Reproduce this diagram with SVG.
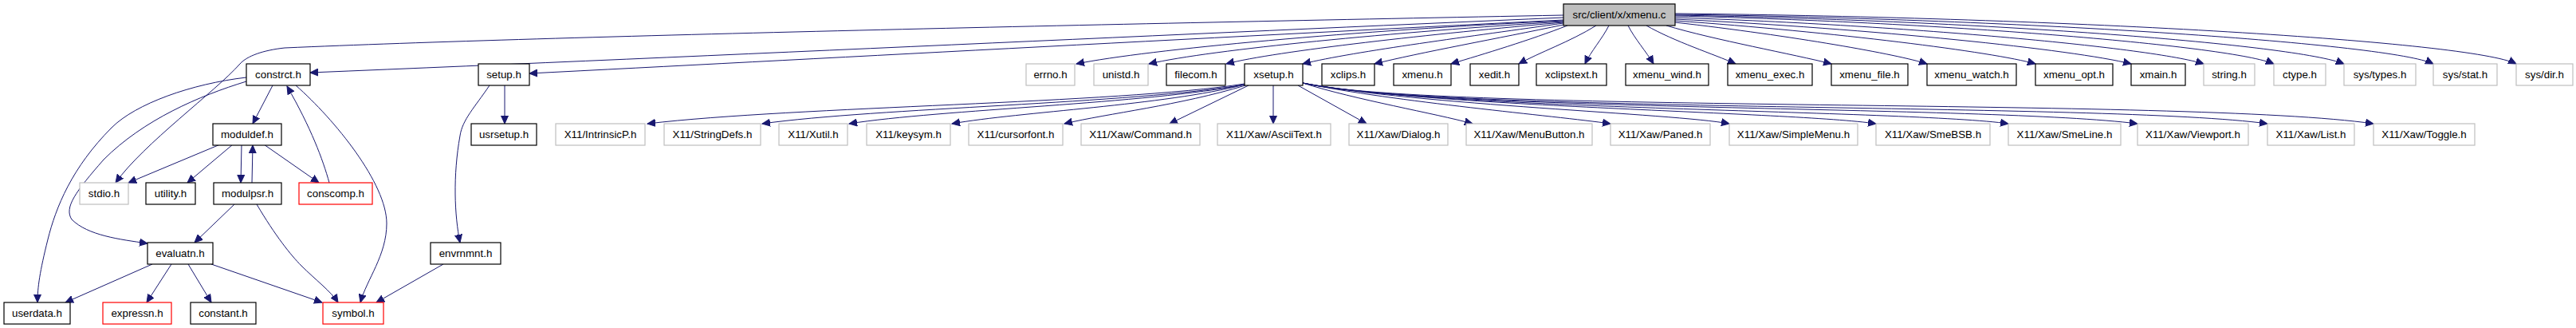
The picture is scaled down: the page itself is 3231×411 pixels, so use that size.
<svg xmlns="http://www.w3.org/2000/svg" width="3231" height="411" viewBox="0 0 3231 411">
<defs>
<marker id="arr" markerUnits="userSpaceOnUse" markerWidth="11" markerHeight="10" viewBox="0 -5 11 10" refX="10" refY="0" orient="auto">
<path d="M0,-4.5 L10,0 L0,4.5 z" fill="#191970" stroke="#191970" stroke-width="1"/>
</marker>
<style>
.n rect{fill:#ffffff;stroke:#000000;stroke-width:1.2}
.g rect{fill:#ffffff;stroke:#bfbfbf;stroke-width:1.2}
.r rect{fill:#ffffff;stroke:#ff0000;stroke-width:1.2}
.root rect{fill:#bfbfbf;stroke:#000000;stroke-width:1.2}
text{font-family:"Liberation Sans",Arial,sans-serif;font-size:13.33px;fill:#000000;text-anchor:middle}
#edges path{fill:none;stroke:#191970;stroke-width:1;marker-end:url(#arr)}
</style>
</defs>
<rect width="3231" height="411" fill="#ffffff"/>
<g id="edges">
<path d="M1961,19 C1400,30 700,45 357,60 C330,63 310,70 301,80 C270,115 180,180 145,229"/>
<path d="M1961,22 C1500,42 900,70 389,91"/>
<path d="M1961,25 C1500,48 1000,75 664,92"/>
<path d="M1961,26 C1700,38 1440,62 1350,80"/>
<path d="M1961,27 C1750,40 1520,62 1441,80"/>
<path d="M1961,28 C1800,42 1600,64 1538,80"/>
<path d="M1961,29 C1850,45 1700,64 1634,80"/>
<path d="M1961,31 C1880,48 1780,66 1724,80"/>
<path d="M1966,32 C1920,50 1860,68 1820,80"/>
<path d="M2002,32 C1970,52 1930,66 1905,80"/>
<path d="M2018,32 C2010,48 1995,65 1988,80"/>
<path d="M2042,32 C2050,48 2065,65 2074,80"/>
<path d="M2065,32 C2100,52 2150,68 2177,80"/>
<path d="M2090,32 C2150,50 2250,68 2297,80"/>
<path d="M2101,28 C2250,45 2380,68 2417,80"/>
<path d="M2101,26 C2300,40 2500,65 2553,80"/>
<path d="M2101,24 C2350,36 2600,62 2673,80"/>
<path d="M2101,22 C2400,32 2700,60 2764,80"/>
<path d="M2101,20 C2450,28 2800,58 2852,80"/>
<path d="M2101,19 C2500,26 2880,56 2940,80"/>
<path d="M2101,18 C2550,24 3000,55 3052,80"/>
<path d="M2101,17 C2600,22 3100,52 3156,80"/>
<path d="M1561,105 C1400,130 1000,133 812,155"/>
<path d="M1561,106 C1420,130 1100,135 956,155"/>
<path d="M1561,106 C1440,130 1180,137 1065,155"/>
<path d="M1561,106 C1460,132 1280,140 1194,155"/>
<path d="M1562,107 C1480,132 1390,142 1335,155"/>
<path d="M1566,107 L1467,155"/>
<path d="M1597,107 L1597,155"/>
<path d="M1628,107 L1714,155"/>
<path d="M1634,104 C1700,125 1800,142 1847,155"/>
<path d="M1634,104 C1750,128 1950,145 2020,155"/>
<path d="M1634,104 C1780,132 2100,142 2169,155"/>
<path d="M1634,104 C1800,135 2250,140 2353,155"/>
<path d="M1634,104 C1800,138 2400,138 2519,155"/>
<path d="M1634,104 C1800,140 2500,132 2681,155"/>
<path d="M1634,104 C1800,142 2650,128 2844,155"/>
<path d="M1634,104 C1800,142 2750,122 2977,155"/>
<path d="M342,107 L317,155"/>
<path d="M413,229 C405,200 390,160 360,108"/>
<path d="M371,107 C420,150 485,230 485,280 C485,320 460,350 452,379"/>
<path d="M309,97 C240,105 170,130 140,160 C90,210 70,260 60,300 C50,340 47,360 47,379"/>
<path d="M309,102 C250,120 180,150 130,200 C95,240 80,260 90,275 C110,295 150,300 185,305"/>
<path d="M276,181 L161,229"/>
<path d="M292,181 L235,229"/>
<path d="M303,181 L302,229"/>
<path d="M316,229 L317,182"/>
<path d="M331,181 L400,229"/>
<path d="M294,256 L244,304"/>
<path d="M322,256 C345,295 365,320 378,333 C395,350 415,365 424,379"/>
<path d="M191,331 L82,379"/>
<path d="M215,331 L184,379"/>
<path d="M236,331 L265,379"/>
<path d="M265,331 L404,379"/>
<path d="M633,107 L633,155"/>
<path d="M614,107 C595,135 580,150 577,170 C568,220 570,270 577,304"/>
<path d="M556,331 L472,379"/>
</g>
<g id="n_root" class="root"><rect x="1961" y="5" width="140" height="27"/><text x="2031" y="23">src/client/x/xmenu.c</text></g>
<g id="n_constrct" class="n"><rect x="309" y="80" width="80" height="27"/><text x="349" y="98">constrct.h</text></g>
<g id="n_setup" class="n"><rect x="600" y="80" width="64" height="27"/><text x="632" y="98">setup.h</text></g>
<g id="n_errno" class="g"><rect x="1287" y="80" width="61" height="27"/><text x="1317.5" y="98">errno.h</text></g>
<g id="n_unistd" class="g"><rect x="1372" y="80" width="68" height="27"/><text x="1406" y="98">unistd.h</text></g>
<g id="n_filecom" class="n"><rect x="1463" y="80" width="74" height="27"/><text x="1500" y="98">filecom.h</text></g>
<g id="n_xsetup" class="n"><rect x="1561" y="80" width="73" height="27"/><text x="1597.5" y="98">xsetup.h</text></g>
<g id="n_xclips" class="n"><rect x="1658" y="80" width="66" height="27"/><text x="1691" y="98">xclips.h</text></g>
<g id="n_xmenu" class="n"><rect x="1748" y="80" width="72" height="27"/><text x="1784" y="98">xmenu.h</text></g>
<g id="n_xedit" class="n"><rect x="1844" y="80" width="61" height="27"/><text x="1874.5" y="98">xedit.h</text></g>
<g id="n_xclipstext" class="n"><rect x="1927" y="80" width="88" height="27"/><text x="1971" y="98">xclipstext.h</text></g>
<g id="n_xmenu_wind" class="n"><rect x="2039" y="80" width="104" height="27"/><text x="2091" y="98">xmenu_wind.h</text></g>
<g id="n_xmenu_exec" class="n"><rect x="2167" y="80" width="106" height="27"/><text x="2220" y="98">xmenu_exec.h</text></g>
<g id="n_xmenu_file" class="n"><rect x="2297" y="80" width="96" height="27"/><text x="2345" y="98">xmenu_file.h</text></g>
<g id="n_xmenu_watch" class="n"><rect x="2417" y="80" width="112" height="27"/><text x="2473" y="98">xmenu_watch.h</text></g>
<g id="n_xmenu_opt" class="n"><rect x="2553" y="80" width="97" height="27"/><text x="2601.5" y="98">xmenu_opt.h</text></g>
<g id="n_xmain" class="n"><rect x="2673" y="80" width="68" height="27"/><text x="2707" y="98">xmain.h</text></g>
<g id="n_string" class="g"><rect x="2764" y="80" width="64" height="27"/><text x="2796" y="98">string.h</text></g>
<g id="n_ctype" class="g"><rect x="2852" y="80" width="65" height="27"/><text x="2884.5" y="98">ctype.h</text></g>
<g id="n_systypes" class="g"><rect x="2940" y="80" width="90" height="27"/><text x="2985" y="98">sys/types.h</text></g>
<g id="n_sysstat" class="g"><rect x="3052" y="80" width="80" height="27"/><text x="3092" y="98">sys/stat.h</text></g>
<g id="n_sysdir" class="g"><rect x="3156" y="80" width="71" height="27"/><text x="3191.5" y="98">sys/dir.h</text></g>
<g id="n_moduldef" class="n"><rect x="267" y="155" width="86" height="27"/><text x="310" y="173">moduldef.h</text></g>
<g id="n_usrsetup" class="n"><rect x="591" y="155" width="82" height="27"/><text x="632" y="173">usrsetup.h</text></g>
<g id="n_intrinsicp" class="g"><rect x="697" y="155" width="112" height="27"/><text x="753" y="173">X11/IntrinsicP.h</text></g>
<g id="n_stringdefs" class="g"><rect x="833" y="155" width="121" height="27"/><text x="893.5" y="173">X11/StringDefs.h</text></g>
<g id="n_xutil" class="g"><rect x="977" y="155" width="86" height="27"/><text x="1020" y="173">X11/Xutil.h</text></g>
<g id="n_keysym" class="g"><rect x="1087" y="155" width="105" height="27"/><text x="1139.5" y="173">X11/keysym.h</text></g>
<g id="n_cursorfont" class="g"><rect x="1215" y="155" width="118" height="27"/><text x="1274" y="173">X11/cursorfont.h</text></g>
<g id="n_command" class="g"><rect x="1356" y="155" width="149" height="27"/><text x="1430.5" y="173">X11/Xaw/Command.h</text></g>
<g id="n_asciitext" class="g"><rect x="1527" y="155" width="142" height="27"/><text x="1598" y="173">X11/Xaw/AsciiText.h</text></g>
<g id="n_dialog" class="g"><rect x="1692" y="155" width="124" height="27"/><text x="1754" y="173">X11/Xaw/Dialog.h</text></g>
<g id="n_menubutton" class="g"><rect x="1839" y="155" width="158" height="27"/><text x="1918" y="173">X11/Xaw/MenuButton.h</text></g>
<g id="n_paned" class="g"><rect x="2020" y="155" width="125" height="27"/><text x="2082.5" y="173">X11/Xaw/Paned.h</text></g>
<g id="n_simplemenu" class="g"><rect x="2169" y="155" width="161" height="27"/><text x="2249.5" y="173">X11/Xaw/SimpleMenu.h</text></g>
<g id="n_smebsb" class="g"><rect x="2353" y="155" width="143" height="27"/><text x="2424.5" y="173">X11/Xaw/SmeBSB.h</text></g>
<g id="n_smeline" class="g"><rect x="2519" y="155" width="141" height="27"/><text x="2589.5" y="173">X11/Xaw/SmeLine.h</text></g>
<g id="n_viewport" class="g"><rect x="2681" y="155" width="139" height="27"/><text x="2750.5" y="173">X11/Xaw/Viewport.h</text></g>
<g id="n_list" class="g"><rect x="2844" y="155" width="109" height="27"/><text x="2898.5" y="173">X11/Xaw/List.h</text></g>
<g id="n_toggle" class="g"><rect x="2977" y="155" width="127" height="27"/><text x="3040.5" y="173">X11/Xaw/Toggle.h</text></g>
<g id="n_stdio" class="g"><rect x="100" y="229" width="61" height="27"/><text x="130.5" y="247">stdio.h</text></g>
<g id="n_utility" class="n"><rect x="183" y="229" width="62" height="27"/><text x="214" y="247">utility.h</text></g>
<g id="n_modulpsr" class="n"><rect x="268" y="229" width="85" height="27"/><text x="310.5" y="247">modulpsr.h</text></g>
<g id="n_conscomp" class="r"><rect x="375" y="229" width="92" height="27"/><text x="421" y="247">conscomp.h</text></g>
<g id="n_evaluatn" class="n"><rect x="185" y="304" width="82" height="27"/><text x="226" y="322">evaluatn.h</text></g>
<g id="n_envrnmnt" class="n"><rect x="540" y="304" width="88" height="27"/><text x="584" y="322">envrnmnt.h</text></g>
<g id="n_userdata" class="n"><rect x="5" y="379" width="83" height="27"/><text x="46.5" y="397">userdata.h</text></g>
<g id="n_expressn" class="r"><rect x="129" y="379" width="86" height="27"/><text x="172" y="397">expressn.h</text></g>
<g id="n_constant" class="n"><rect x="239" y="379" width="82" height="27"/><text x="280" y="397">constant.h</text></g>
<g id="n_symbol" class="r"><rect x="405" y="379" width="76" height="27"/><text x="443" y="397">symbol.h</text></g>
</svg>
